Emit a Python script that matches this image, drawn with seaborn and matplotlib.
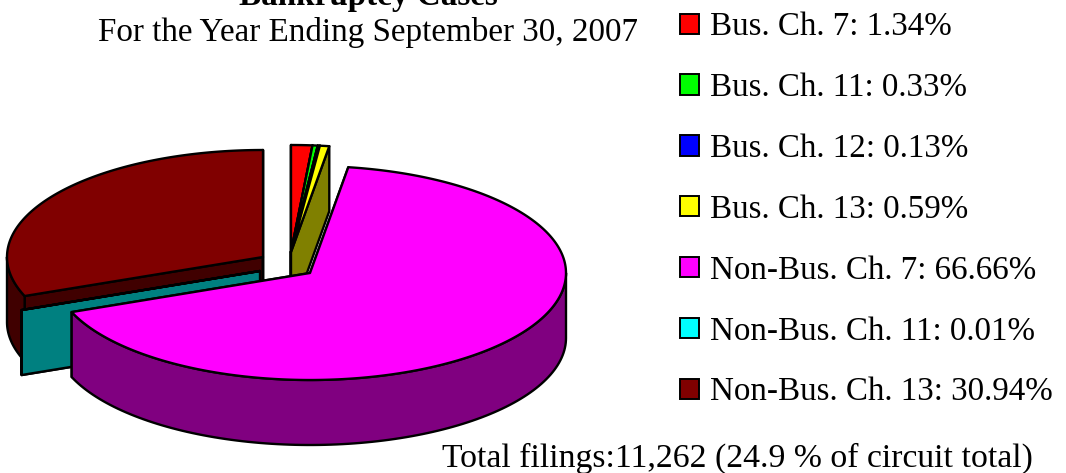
import numpy as np
import matplotlib
matplotlib.use("Agg")
import matplotlib.pyplot as plt
from matplotlib.patches import Patch, Polygon
import seaborn as sns

categories = ["Bus. Ch. 7", "Bus. Ch. 11", "Bus. Ch. 12", "Bus. Ch. 13",
              "Non-Bus. Ch. 7", "Non-Bus. Ch. 11", "Non-Bus. Ch. 13"]
values = [1.34, 0.33, 0.13, 0.59, 66.66, 0.01, 30.94]
colors = ["#FF0000", "#00FF00", "#0000FF", "#FFFF00", "#FF00FF", "#00FFFF", "#800000"]
title_bold = "Bankruptcy Cases"
title_sub = "For the Year Ending September 30, 2007"
footer = "Total filings:11,262 (24.9 % of circuit total)"

sns.set_theme(style="white")
plt.rcParams["font.family"] = ["Liberation Serif", "DejaVu Sans"]
palette = sns.color_palette(colors)

fig = plt.figure(figsize=(10.66, 4.73), dpi=100, facecolor="white")
ax = fig.add_axes([0, 0, 1, 1])
ax.set_xlim(0, 1066)
ax.set_ylim(473, 0)
ax.set_axis_off()

# pie geometry (exploded groups)
A, B, DEPTH = 256.0, 107.0, 65.0
CENTERS = {0: (291, 252), 1: (291, 252), 2: (291, 252), 3: (291, 252),
           4: (310, 273), 5: (260, 271), 6: (263, 257)}
LW = 1.7
ORDER = [6, 5, 0, 1, 2, 3, 4]
FS = 23.9


def pt(c, th, r=1.0, dz=0.0):
    return (c[0] + r * A * np.sin(th), c[1] - r * B * np.cos(th) + dz)


def poly(points, fc):
    ax.add_patch(Polygon(points, closed=True, facecolor=fc, edgecolor="black",
                         linewidth=LW, joinstyle="round"))


edges = np.radians(np.concatenate([[0], np.cumsum(values)]) / sum(values) * 360)
for i in ORDER:
    t0, t1 = edges[i], edges[i + 1]
    c = CENTERS[i]
    fc = palette[i]
    wall = tuple(v * 0.5 for v in fc)
    # cut faces
    for t in (t0, t1):
        poly([c, pt(c, t), pt(c, t, dz=DEPTH), (c[0], c[1] + DEPTH)], wall)
    # outer wall, front-facing part only
    lo, hi = max(t0, np.pi / 2), min(t1, 3 * np.pi / 2)
    if hi > lo:
        ts = np.linspace(lo, hi, 120)
        upper = [pt(c, t) for t in ts]
        lower = [pt(c, t, dz=DEPTH) for t in ts[::-1]]
        poly(upper + lower, wall)
    # top
    ts = np.linspace(t0, t1, max(3, int((t1 - t0) * 60)))
    poly([c] + [pt(c, t) for t in ts], fc)

handles = [Patch(facecolor=palette[i], edgecolor="black", linewidth=1.4,
                 label=f"{categories[i]}: {values[i]:.2f}%")
           for i in range(len(categories))]
ax.legend(handles=handles, loc="upper left", bbox_to_anchor=(670 / 1066, 1 - 2 / 473),
          bbox_transform=fig.transFigure, frameon=False, fontsize=23.75,
          handlelength=0.57, handleheight=0.57, handletextpad=0.34,
          labelspacing=0.92, labelcolor="black", borderpad=0.3, borderaxespad=0)

ax.text(368.5, -3, title_bold, ha="center", va="center", fontsize=FS, fontweight="bold", color="black")
ax.text(368.5, 33, title_sub, ha="center", va="center", fontsize=FS, color="black")
ax.text(737, 458, footer, ha="center", va="center", fontsize=24.3, color="black")

fig.savefig("out.png", dpi=100, facecolor="white")
